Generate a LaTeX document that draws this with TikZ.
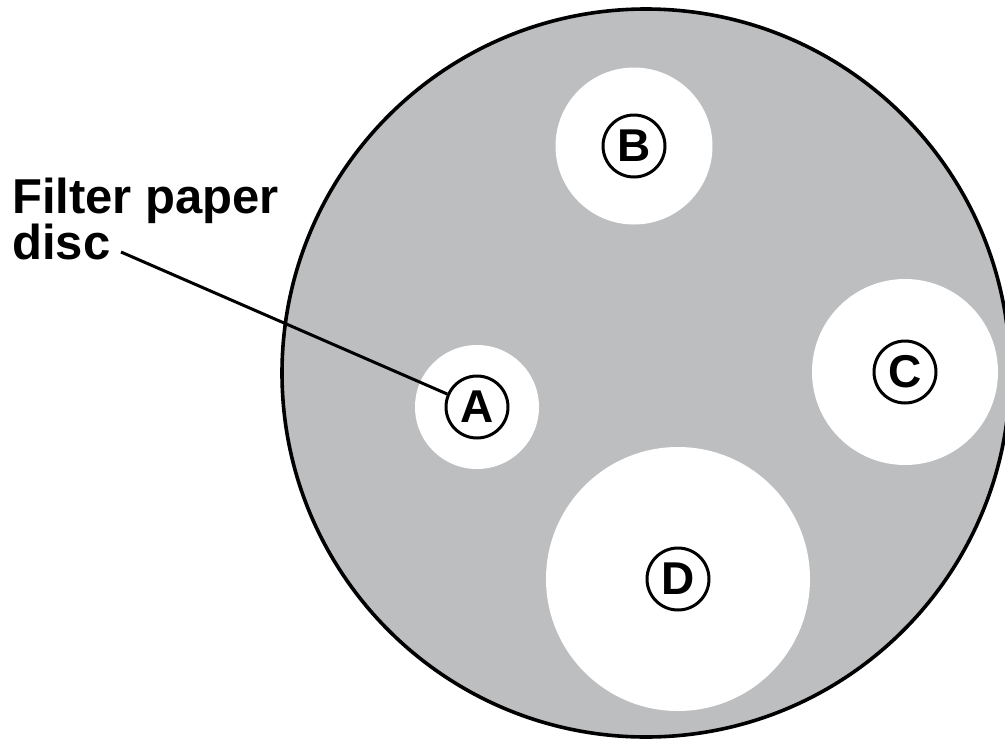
\documentclass[tikz,border=0pt]{standalone}
\usepackage{fontspec}
\setmainfont{Liberation Sans}
\usepackage{tikz}
\definecolor{agar}{RGB}{189,190,192}

\begin{document}
\begin{tikzpicture}[x=1pt, y=-1pt,
  plate/.style={circle, draw, line width=3.6pt, fill=agar, inner sep=0pt},
  zone/.style={circle, fill=white, inner sep=0pt},
  disc/.style={circle, draw, line width=3pt, minimum size=62pt, inner sep=0pt, font=\fontsize{46}{46}\selectfont\bfseries},
  note/.style={align=left, inner sep=0pt, font=\fontsize{49}{46}\selectfont\bfseries},
  lead/.style={line width=3pt}]
\useasboundingbox (0,0) rectangle (1005,740);
\clip (0,0) rectangle (1005,740);
% plate and clear zones
\node[plate, minimum size=728pt] (dish) at (646,373) {};
\node[zone, minimum size=124pt] (zA) at (477,407) {};
\node[zone, minimum size=157pt] (zB) at (634,146) {};
\node[zone, minimum size=186pt] (zC) at (905,372) {};
\node[zone, minimum size=264pt] (zD) at (678,579) {};
% paper discs
\node[disc] (dA) at (zA) {A};
\node[disc] (dB) at (zB) {B};
\node[disc] (dC) at (zC) {C};
\node[disc] (dD) at (zD) {D};
% label
\node[note, anchor=base west] (fpd) at (12,259) {Filter paper\\disc};
\coordinate (tip) at (121,252);
\draw[lead] (tip) -- (dA);
\end{tikzpicture}
\end{document}
